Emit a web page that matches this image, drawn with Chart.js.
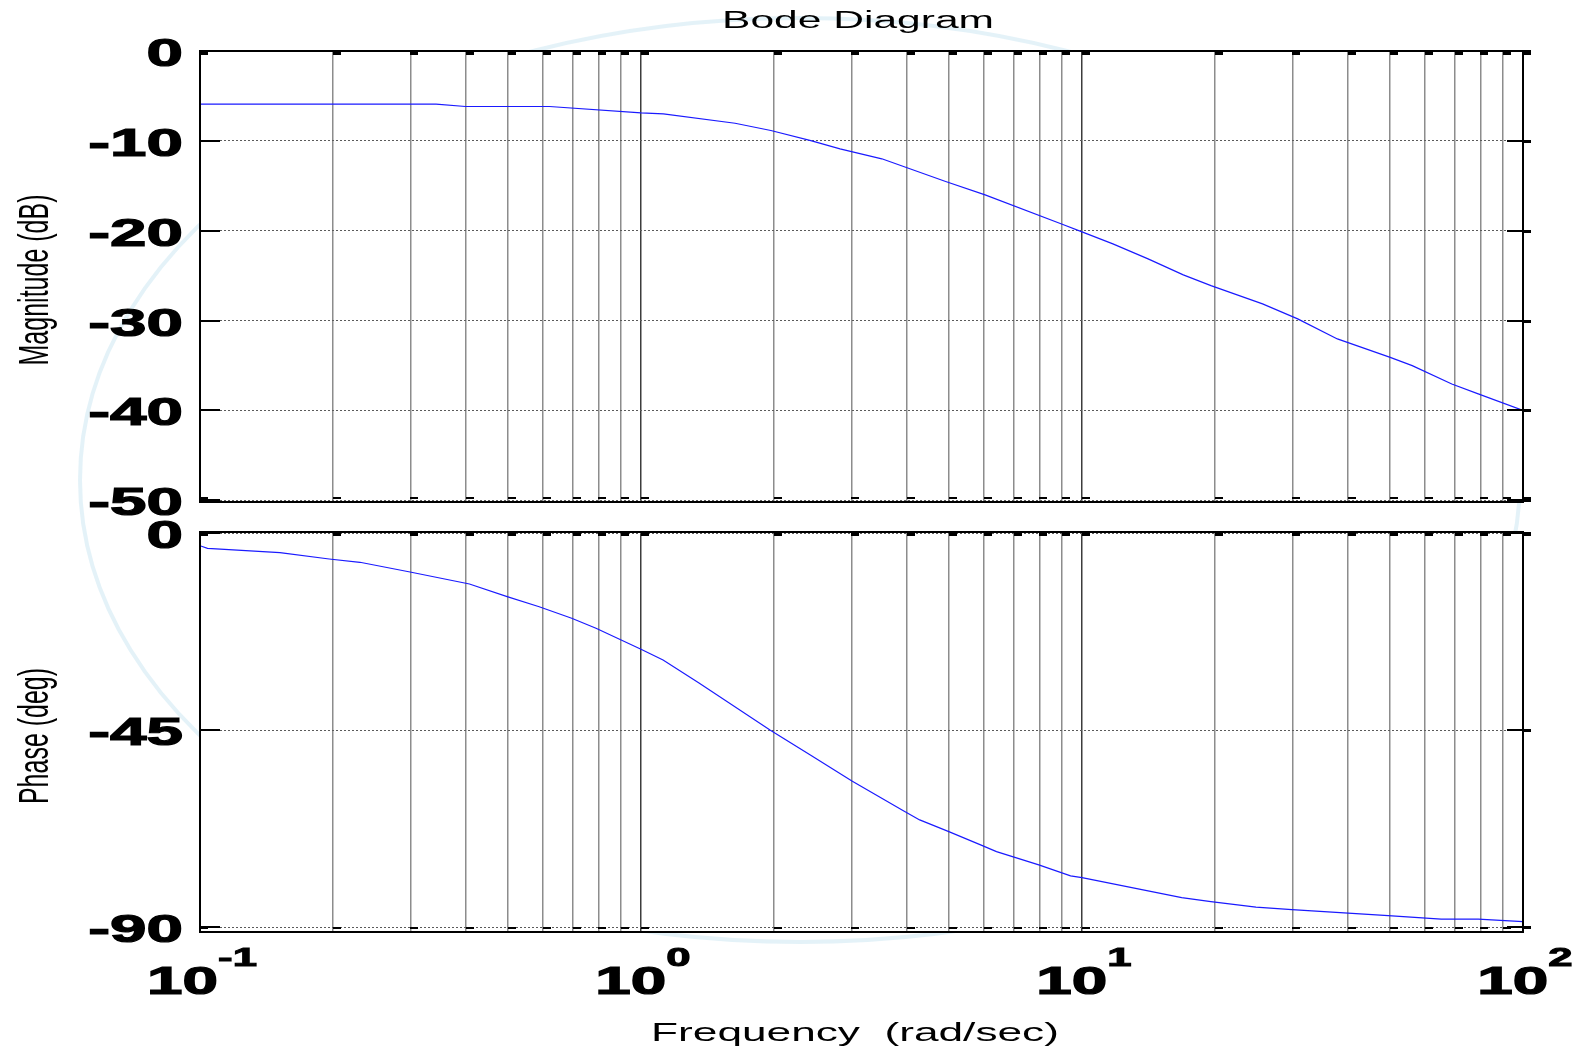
<!DOCTYPE html>
<html>
<head>
<meta charset="utf-8">
<title>Bode Diagram</title>
<script src="https://cdn.jsdelivr.net/npm/chart.js@4.4.1/dist/chart.umd.min.js"></script>
<style>
  html, body { margin: 0; padding: 0; background: #fff; overflow: hidden; }
  canvas { position: absolute; left: 0; top: 0; }
</style>
</head>
<body>
<canvas id="magChart" width="1591" height="1048"></canvas>
<canvas id="phaseChart" width="1591" height="1048"></canvas>
<script>
// frequency axis (rad/sec) - grid lines and decade labels
const freqGrid = [0.1, 0.2, 0.3, 0.4, 0.5, 0.6, 0.7, 0.8, 0.9,
                  1, 2, 3, 4, 5, 6, 7, 8, 9,
                  10, 20, 30, 40, 50, 60, 70, 80, 90, 100];
const decadeValues = [0.1, 1, 10, 100];
const decadeExps = ['-1', '0', '1', '2'];

// magnitude panel
const magTicks = [0, -10, -20, -30, -40, -50];
const magFreq = [0.1, 0.343, 0.40, 0.62, 1.0, 1.124, 1.634, 1.97, 2.427, 2.827, 3.516, 4.907, 6.03,
                 9.02, 10, 11.75, 14.12, 16.97, 19.61, 25.67, 30.84, 37.94, 49.99, 56.08, 68.96, 79.15, 100];
const magDb = [-5.92, -5.92, -6.18, -6.18, -6.88, -6.99, -8.04, -8.85, -9.97, -10.89, -12.0, -14.53, -16.01,
               -19.29, -20.13, -21.47, -23.14, -24.92, -26.11, -28.15, -29.82, -32.05, -34.10, -35.02, -37.06, -38.17, -40.0];

// phase panel
const phaseTicks = [0, -45, -90];
const phaseFreq = [0.1, 0.104, 0.1518, 0.1963, 0.2305, 0.2994, 0.4083, 0.4971, 0.5877, 0.6963, 0.7906,
                   1.0, 1.122, 1.351, 1.965, 2.421, 3.008, 3.944, 4.285, 4.989, 5.889, 6.399, 7.98, 9.42, 10,
                   16.83, 19.6, 24.8, 29.92, 49.46, 65.22, 79.15, 100];
const phaseDeg = [-2.83, -3.43, -4.43, -5.87, -6.62, -8.84, -11.58, -14.48, -16.77, -19.42, -21.70,
                  -26.5, -28.94, -34.13, -45.0, -50.64, -56.58, -63.43, -65.49, -68.16, -71.2, -72.73, -75.77, -78.28, -78.67,
                  -83.23, -84.15, -85.43, -85.98, -87.35, -88.17, -88.17, -88.72];

const SX = 1.68; // the picture is stretched sideways, text too
const FONT = '"Liberation Sans", Arial, sans-serif';

function drawText(ctx, text, x, y, font, align, sx, rotate, heavy) {
    ctx.save();
    ctx.translate(x, y);
    if (rotate) {
        ctx.rotate(-Math.PI / 2);
        ctx.scale(1, sx);
    } else {
        ctx.scale(sx, 1);
    }
    ctx.font = font;
    ctx.fillStyle = '#000';
    ctx.textAlign = align;
    ctx.textBaseline = 'alphabetic';
    ctx.fillText(text, 0, 0);
    if (heavy) {
        ctx.strokeStyle = '#000';
        ctx.lineWidth = heavy;
        ctx.strokeText(text, 0, 0);
    }
    ctx.restore();
}

// faint watermark ring, covered by the white plot areas
const backPlugin = {
    id: 'back',
    beforeDraw(chart) {
        const ctx = chart.ctx;
        const a = chart.chartArea;
        ctx.save();
        if (chart.canvas.id === 'magChart') {
            ctx.strokeStyle = 'rgba(205, 232, 242, 0.55)';
            ctx.lineWidth = 4;
            ctx.beginPath();
            ctx.ellipse(800, 480, 720, 462, 0, 0, Math.PI * 2);
            ctx.stroke();
        }
        ctx.fillStyle = '#fff';
        ctx.fillRect(a.left, a.top, a.right - a.left, a.bottom - a.top);
        ctx.restore();
    }
};

// box round the plot area and the little black tick marks
const framePlugin = {
    id: 'frame',
    afterDatasetsDraw(chart) {
        const ctx = chart.ctx;
        const a = chart.chartArea;
        const xs = chart.scales.x;
        const ys = chart.scales.y;
        ctx.save();
        ctx.fillStyle = '#000';
        xs.ticks.forEach(t => {
            const px = Math.round(xs.getPixelForValue(t.value));
            ctx.fillRect(px, a.top, 8, 4);
            ctx.fillRect(px, a.bottom - 5, 8, 2);
        });
        ys.ticks.forEach(t => {
            const py = Math.round(ys.getPixelForValue(t.value));
            ctx.fillRect(a.left, py - 1, 20, 2);
            ctx.fillRect(a.right - 16, py - 1, 16, 2);
            ctx.fillRect(a.right, py - 1, 8, 3);
        });
        ctx.strokeStyle = '#000';
        ctx.lineWidth = 2;
        ctx.strokeRect(a.left, a.top, a.right - a.left, a.bottom - a.top);
        ctx.restore();
    }
};

const labelPlugin = {
    id: 'labels',
    afterDraw(chart) {
        const ctx = chart.ctx;
        const ys = chart.scales.y;
        ys.ticks.forEach(t => {
            drawText(ctx, String(t.value), 183, ys.getPixelForValue(t.value) + 15, 'bold 39px ' + FONT, 'right', SX, false, 1.2);
        });
        const which = chart.canvas.id;
        if (which === 'magChart') {
            drawText(ctx, 'Bode Diagram', 858, 28, '23px ' + FONT, 'center', 1.85, false);
            drawText(ctx, 'Magnitude (dB)', 48, 280, '25px ' + FONT, 'center', 1.7, true);
        } else {
            drawText(ctx, 'Phase (deg)', 48, 736, '25px ' + FONT, 'center', 1.7, true);
            const xs = chart.scales.x;
            decadeValues.forEach((v, i) => {
                const px = xs.getPixelForValue(v);
                ctx.save();
                ctx.font = 'bold 38px ' + FONT;
                const wBase = ctx.measureText('10').width * SX;
                ctx.font = 'bold 26px ' + FONT;
                const wExp = ctx.measureText(decadeExps[i]).width * SX;
                ctx.restore();
                const left = px - (wBase + wExp) / 2 + 2;
                drawText(ctx, '10', left, 994, 'bold 38px ' + FONT, 'left', SX, false, 1.2);
                drawText(ctx, decadeExps[i], left + wBase, 966, 'bold 26px ' + FONT, 'left', SX, false, 1);
            });
            drawText(ctx, 'Frequency  (rad/sec)', 855, 1041, '26px ' + FONT, 'center', 1.7, false);
        }
    }
};

function makeChart(id, freqs, values, ticks, yMin, yMax, area) {
    const data = freqs.map((f, i) => ({ x: f, y: values[i] }));
    return new Chart(document.getElementById(id), {
        type: 'line',
        data: {
            datasets: [{
                data: data,
                borderColor: '#1a1aff',
                borderWidth: 1.2,
                pointRadius: 0,
                tension: 0,
                fill: false
            }]
        },
        options: {
            responsive: false,
            animation: false,
            devicePixelRatio: 1,
            layout: { padding: { left: 0, top: area.top, right: 1591 - area.right, bottom: 1048 - area.bottom } },
            plugins: { legend: { display: false }, tooltip: { enabled: false }, title: { display: false } },
            scales: {
                x: {
                    type: 'logarithmic',
                    min: 0.1,
                    max: 100,
                    afterBuildTicks: s => { s.ticks = freqGrid.map(v => ({ value: v })); },
                    afterFit: s => { s.height = 0; },
                    ticks: { display: false },
                    border: { display: false },
                    grid: {
                        drawTicks: false,
                        lineWidth: 1.5,
                        color: c => (c.tick && (c.tick.value === 1 || c.tick.value === 10)) ? '#3c3c3c' : '#8c8c8c'
                    }
                },
                y: {
                    min: yMin,
                    max: yMax,
                    afterBuildTicks: s => { s.ticks = ticks.map(v => ({ value: v })); },
                    afterFit: s => { s.width = area.left; },
                    ticks: { display: false },
                    border: { display: false, dash: [2, 2] },
                    grid: { drawTicks: false, lineWidth: 1, color: '#5a5a5a' }
                }
            }
        },
        plugins: [backPlugin, framePlugin, labelPlugin]
    });
}

makeChart('magChart', magFreq, magDb, magTicks, -50.2, 0, { left: 200, top: 51, right: 1523, bottom: 502 });
makeChart('phaseChart', phaseFreq, phaseDeg, phaseTicks, -91.1, 0.3, { left: 200, top: 532, right: 1523, bottom: 932 });
</script>
</body>
</html>
